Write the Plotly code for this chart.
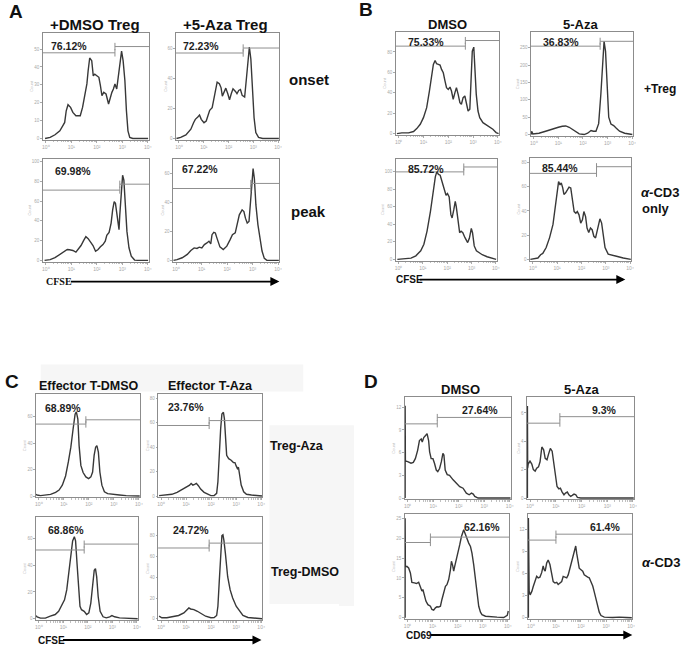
import math
import plotly.graph_objects as go

# ---------------- DATA: (log10 fluorescence, event count) ----------------
# Panel A  (CFSE, onset / peak)
A_onset_dmso = [(-0.03,0),(0.17,0.6),(0.36,2.1),(0.55,4.3),(0.68,7.5),(0.74,9.0),(0.80,15.5),(0.87,18.9),(0.97,17.4),(1.06,14.6),(1.18,12.7),(1.35,12.7),(1.44,17.4),(1.53,24.9),(1.61,30.5),(1.66,38.0),(1.72,45.0),(1.80,43.5),(1.86,35.0),(1.92,36.0),(1.99,35.0),(2.08,34.2),(2.14,29.5),(2.20,23.9),(2.27,25.8),(2.36,24.9),(2.46,19.3),(2.52,23.0),(2.59,25.8),(2.65,27.7),(2.71,30.5),(2.78,27.7),(2.84,34.2),(2.90,43.5),(2.97,48.8),(3.03,43.5),(3.10,32.3),(3.16,15.5),(3.22,4.3),(3.29,0.6),(3.41,0),(4.01,0)]
A_onset_aza = [(-0.1,0),(0.07,0.7),(0.28,2.4),(0.48,6.2),(0.59,10.5),(0.66,12.7),(0.76,14.3),(0.83,15.6),(0.90,12.7),(1.01,10.5),(1.10,11.6),(1.17,16.0),(1.24,18.7),(1.34,20.4),(1.42,27.0),(1.49,34.7),(1.54,37.4),(1.63,36.3),(1.70,33.6),(1.75,28.1),(1.82,30.8),(1.89,33.4),(1.97,29.7),(2.04,25.7),(2.11,29.7),(2.18,33.0),(2.28,31.2),(2.34,29.7),(2.41,31.9),(2.48,32.5),(2.55,28.6),(2.65,27.5),(2.72,39.6),(2.79,52.7),(2.84,60.7),(2.90,52.7),(2.97,33.0),(3.03,13.8),(3.10,4.0),(3.21,0.7),(3.38,0),(4.03,0)]
A_peak_dmso = [(-0.05,0),(0.17,0.7),(0.36,2.7),(0.55,6.0),(0.74,9.3),(0.84,11.0),(0.93,10.7),(1.06,10.0),(1.18,8.3),(1.27,11.0),(1.38,15.0),(1.48,20.0),(1.57,24.0),(1.66,22.0),(1.76,18.3),(1.85,15.0),(1.95,9.3),(2.04,10.7),(2.14,13.7),(2.24,16.0),(2.33,19.3),(2.39,25.3),(2.48,28.3),(2.56,37.7),(2.62,51.0),(2.68,59.3),(2.73,57.7),(2.78,46.0),(2.83,34.3),(2.87,31.0),(2.90,46.0),(2.96,69.3),(3.01,86.0),(3.06,81.0),(3.11,59.3),(3.18,29.3),(3.26,12.7),(3.35,4.3),(3.48,0.3),(3.61,0),(4.01,0)]
A_peak_aza = [(-0.1,0),(0.04,0.5),(0.24,1.8),(0.44,4.1),(0.58,6.8),(0.71,8.6),(0.82,8.2),(0.91,9.1),(1.01,8.6),(1.11,10.9),(1.21,12.0),(1.29,13.2),(1.36,11.4),(1.41,17.7),(1.48,19.3),(1.54,18.9),(1.61,15.0),(1.72,9.3),(1.85,7.5),(1.99,9.8),(2.12,14.3),(2.21,17.7),(2.32,18.9),(2.40,25.7),(2.48,31.4),(2.59,34.8),(2.66,33.6),(2.72,29.1),(2.79,25.7),(2.86,26.8),(2.91,38.2),(2.97,54.1),(3.02,63.2),(3.07,56.4),(3.13,38.2),(3.21,24.5),(3.29,15.5),(3.37,6.4),(3.46,1.4),(3.56,0),(4.03,0)]

# Panel B  (CFSE, +Treg / anti-CD3 only)
B_treg_dmso = [(-0.07,0),(0.13,0.7),(0.40,0.7),(0.60,2.0),(0.73,4.9),(0.87,9.1),(1.00,15.6),(1.13,25.4),(1.24,41.7),(1.33,58.0),(1.40,67.8),(1.47,71.7),(1.53,68.4),(1.60,67.8),(1.67,67.1),(1.73,62.9),(1.80,59.6),(1.87,51.5),(1.93,44.9),(2.00,43.3),(2.07,45.6),(2.13,41.7),(2.20,33.6),(2.27,40.1),(2.33,45.0),(2.40,38.4),(2.47,30.3),(2.53,28.7),(2.60,35.2),(2.67,36.8),(2.73,28.7),(2.80,22.1),(2.87,23.8),(2.92,51.5),(2.97,80.8),(3.03,84.7),(3.08,61.2),(3.13,38.4),(3.20,22.1),(3.27,15.6),(3.40,10.7),(3.60,7.5),(3.80,4.2),(3.93,1.0),(4.03,0)]
B_treg_aza = [(-0.1,0),(-0.09,9.5),(-0.04,1.9),(0.21,3.8),(0.48,9.5),(0.75,16.2),(1.00,21.0),(1.16,23.9),(1.30,24.8),(1.44,21.0),(1.64,11.5),(1.85,1.9),(2.05,0),(2.19,3.8),(2.33,11.5),(2.42,9.5),(2.53,9.5),(2.64,31.5),(2.73,117),(2.81,232),(2.86,269),(2.92,240),(2.99,134),(3.05,50),(3.14,30.5),(3.25,25.8),(3.36,18.1),(3.49,9.5),(3.70,3.8),(3.90,1.9),(4.01,0)]
B_cd3_dmso = [(-0.05,0),(0.24,0.4),(0.51,1.5),(0.71,4.1),(0.91,9.8),(1.04,17.3),(1.17,32.3),(1.31,54.9),(1.41,77.4),(1.51,94.4),(1.57,100),(1.64,97.0),(1.71,96.2),(1.77,90.2),(1.84,84.6),(1.91,77.1),(1.95,73.3),(2.01,75.2),(2.08,71.4),(2.15,51.1),(2.20,47.4),(2.27,56.8),(2.33,66.2),(2.37,60.5),(2.44,43.6),(2.51,30.5),(2.57,32.3),(2.64,30.5),(2.73,24.8),(2.84,19.2),(2.91,24.1),(2.99,35.3),(3.04,30.5),(3.11,15.4),(3.20,9.8),(3.31,7.5),(3.44,5.3),(3.64,3.0),(3.84,1.5),(4.01,0)]
B_cd3_aza = [(-0.1,0),(0.07,0.3),(0.21,1.1),(0.32,3.8),(0.41,4.9),(0.55,9.8),(0.69,18.0),(0.83,28.9),(0.92,42.5),(1.01,60.2),(1.06,64.3),(1.12,61.6),(1.17,63.2),(1.23,59.1),(1.28,53.7),(1.35,55.0),(1.42,56.9),(1.49,59.7),(1.56,59.1),(1.63,49.6),(1.70,39.5),(1.77,38.1),(1.83,39.5),(1.90,36.8),(1.97,30.0),(2.04,32.7),(2.10,39.5),(2.17,35.4),(2.23,25.9),(2.30,22.3),(2.37,25.9),(2.44,24.5),(2.51,19.1),(2.58,17.7),(2.66,24.5),(2.76,33.5),(2.83,30.0),(2.90,18.0),(2.97,9.8),(3.10,4.4),(3.31,3.0),(3.52,2.2),(3.72,1.1),(3.93,0),(4.03,0)]

# Panel C  (CFSE, effector x Treg)
C_aza_effdmso = [(-0.11,1.2),(-0.07,0.8),(0.07,0.3),(0.27,0.8),(0.47,1.2),(0.67,2.8),(0.81,4.5),(0.94,8.2),(1.07,15.2),(1.18,25.8),(1.28,37.0),(1.37,50.8),(1.45,62.0),(1.50,63.8),(1.56,58.2),(1.61,38.2),(1.68,23.2),(1.77,17.8),(1.88,14.5),(1.99,13.2),(2.08,14.5),(2.15,18.2),(2.21,30.8),(2.27,37.0),(2.32,38.2),(2.38,33.2),(2.44,18.2),(2.52,8.2),(2.62,3.2),(2.75,1.8),(2.95,1.2),(3.22,0.8),(3.49,0.3),(3.76,0.3),(4.03,0)]
C_aza_effaza = [(-0.08,0.3),(0.16,0.8),(0.43,1.4),(0.64,3.0),(0.84,5.4),(1.04,7.3),(1.14,8.9),(1.20,10.3),(1.27,8.9),(1.34,9.5),(1.41,10.3),(1.49,8.4),(1.58,5.7),(1.72,3.0),(1.85,1.4),(1.99,0.3),(2.12,0.3),(2.22,2.2),(2.27,11.6),(2.32,33.2),(2.38,54.9),(2.43,67.0),(2.49,68.4),(2.53,63.0),(2.57,49.5),(2.62,33.2),(2.70,30.5),(2.80,29.2),(2.89,27.3),(2.95,27.3),(3.00,24.6),(3.05,22.4),(3.09,23.5),(3.14,16.8),(3.20,8.9),(3.30,3.5),(3.41,1.4),(3.61,0.8),(3.81,0.3),(4.03,0)]
C_dmso_effdmso = [(-0.11,2.4),(-0.07,1.5),(0.07,0.5),(0.27,0.5),(0.47,2.0),(0.67,3.2),(0.81,5.6),(0.94,10.5),(1.05,14.1),(1.14,21.5),(1.23,33.7),(1.32,48.3),(1.38,58.0),(1.45,61.0),(1.50,58.0),(1.56,41.0),(1.61,26.3),(1.68,9.3),(1.74,6.8),(1.85,5.6),(1.95,3.2),(2.04,4.4),(2.12,11.7),(2.19,26.3),(2.26,36.1),(2.31,37.3),(2.36,31.2),(2.42,16.6),(2.50,5.6),(2.62,1.5),(2.75,0.7),(2.89,1.5),(2.98,2.4),(3.09,1.5),(3.29,0.7),(3.49,0.5),(3.76,0.2),(4.03,0)]
C_dmso_effaza = [(-0.08,2.5),(0.03,1.0),(0.23,1.0),(0.50,1.9),(0.70,3.2),(0.91,5.7),(1.04,8.9),(1.11,10.5),(1.18,9.5),(1.31,8.9),(1.45,7.3),(1.58,5.1),(1.78,2.5),(1.99,1.0),(2.12,1.3),(2.22,3.2),(2.27,12.1),(2.32,34.3),(2.38,62.9),(2.43,80.3),(2.47,81.0),(2.51,75.6),(2.57,62.9),(2.66,40.6),(2.76,27.9),(2.86,20.0),(3.00,12.1),(3.14,7.3),(3.27,3.2),(3.47,1.3),(3.81,0.6),(4.03,0)]

# Panel D  (CD69, unstimulated / anti-CD3)
D_un_dmso = [(-0.1,0),(-0.1,12.2),(-0.09,4.9),(0.0,4.8),(0.13,4.6),(0.22,4.7),(0.30,5.2),(0.39,6.3),(0.46,7.6),(0.53,7.8),(0.57,7.4),(0.63,8.0),(0.70,8.3),(0.76,8.5),(0.82,7.6),(0.86,6.1),(0.92,5.2),(0.99,5.2),(1.05,4.6),(1.12,3.7),(1.18,3.5),(1.25,3.9),(1.32,4.8),(1.38,5.9),(1.42,5.7),(1.47,3.7),(1.55,3.1),(1.64,3.0),(1.78,2.4),(1.91,2.0),(2.04,1.5),(2.17,1.3),(2.30,0.65),(2.41,0.43),(2.50,0.65),(2.57,0.52),(2.63,0.22),(2.76,0),(4.03,0)]
D_un_aza = [(-0.1,0),(-0.1,6.5),(-0.09,2.1),(-0.07,2.4),(0.0,2.6),(0.07,2.4),(0.13,2.0),(0.20,1.9),(0.26,2.1),(0.33,2.2),(0.39,2.56),(0.46,3.6),(0.53,3.4),(0.59,2.8),(0.66,2.7),(0.72,3.1),(0.79,3.5),(0.86,3.3),(0.92,2.4),(0.99,1.6),(1.05,0.81),(1.12,0.65),(1.18,0.70),(1.25,0.42),(1.32,0.23),(1.38,0.35),(1.45,0.42),(1.51,0.23),(1.58,0.12),(1.64,0.19),(1.71,0.28),(1.78,0.23),(1.84,0.05),(1.97,0),(4.03,0)]
D_cd3_dmso = [(-0.1,0),(-0.1,25.0),(-0.09,12.75),(-0.03,12.9),(0.04,12.5),(0.11,11.25),(0.17,8.9),(0.27,8.75),(0.35,8.6),(0.44,8.9),(0.51,7.5),(0.57,6.7),(0.61,7.1),(0.67,5.4),(0.73,4.2),(0.81,3.3),(0.91,2.9),(0.97,2.1),(1.04,1.9),(1.11,2.5),(1.17,2.75),(1.24,2.7),(1.31,2.9),(1.37,4.6),(1.44,6.7),(1.51,7.9),(1.57,8.3),(1.64,9.6),(1.71,12.1),(1.75,14.2),(1.80,13.1),(1.84,11.7),(1.88,12.9),(1.95,14.6),(2.01,16.25),(2.08,18.3),(2.15,20.4),(2.20,21.4),(2.24,22.1),(2.28,21.4),(2.32,20.6),(2.37,19.6),(2.44,18.75),(2.51,17.9),(2.57,16.25),(2.64,13.3),(2.71,9.2),(2.77,5.8),(2.84,2.9),(2.91,1.4),(2.97,0.8),(3.11,0.4),(3.31,0.25),(3.57,0.17),(3.84,0.08),(3.98,0.6),(4.02,1.7)]
D_cd3_aza = [(-0.1,0),(-0.1,13.5),(-0.09,4.3),(-0.07,3.6),(-0.03,3.1),(0.04,3.6),(0.09,4.2),(0.17,5.2),(0.23,5.6),(0.29,5.4),(0.36,5.5),(0.43,6.1),(0.49,7.0),(0.53,6.5),(0.57,6.3),(0.63,7.4),(0.69,7.8),(0.76,7.2),(0.83,5.8),(0.89,4.9),(0.96,4.7),(1.03,4.8),(1.09,4.5),(1.16,4.7),(1.23,4.9),(1.29,5.6),(1.36,5.5),(1.43,5.4),(1.49,5.8),(1.56,6.7),(1.63,7.6),(1.69,8.3),(1.75,9.4),(1.79,9.7),(1.83,8.7),(1.88,7.6),(1.93,6.7),(2.00,6.5),(2.07,6.3),(2.13,5.8),(2.20,5.6),(2.27,5.5),(2.33,5.4),(2.40,4.9),(2.47,4.3),(2.53,3.5),(2.60,2.5),(2.67,1.6),(2.73,0.76),(2.80,0.31),(2.93,0.09),(3.27,0.04),(3.53,0.09),(3.80,0.04),(4.03,0)]

# gate labels / gate boundaries (log10) / gate bracket levels (count)
A_pct = ["76.12%", "72.23%", "69.98%", "67.22%"]
B_pct = ["75.33%", "36.83%", "85.72%", "85.44%"]
C_pct = ["68.89%", "23.76%", "68.86%", "24.72%"]
D_pct = ["27.64%", "9.3%", "62.16%", "61.4%"]
A_gate = [(2.71, 47.9, 51.4), (2.59, 56.7, 60.0), (2.90, 71, 77), (2.93, 49.5, 53)]
B_gate = [(2.69, 85.7, 91.2), (2.70, 255, 269), (2.68, 100, 105.6), (2.62, 71.1, 76.6)]
C_gate = [(1.88, 54.5, 57.75), (1.92, 57.6, 61.6), (1.85, 51.2, 55.6), (1.92, 68.3, 73.0)]
D_gate = [(1.16, 9.8, 10.65), (1.16, 5.28, 5.74), (0.91, 18.9, 20.25), (1.0, 10.5, 11.3)]

# y-axis tick values and top of each count scale
A_yticks = [[0, 10, 20, 30, 40, 50], [0, 20, 40, 60], [0, 20, 40, 60, 80, 100], [0, 20, 40, 60]]
B_yticks = [[0, 20, 40, 60, 80], [0, 50, 100, 150, 200, 250], [0, 20, 40, 60, 80, 100], [0, 20, 40, 60, 80]]
C_yticks = [[0, 20, 40, 60], [0, 20, 40, 60, 80], [0, 20, 40, 60], [0, 20, 40, 60, 80]]
D_yticks = [[0, 3, 6, 9, 12], [0, 2, 4, 6], [0, 5, 10, 15, 20, 25], [0, 3, 6, 9, 12]]
A_ymax = [59, 70, 102.7, 70]
B_ymax = [99.6, 296, 115, 84]
C_ymax = [77, 83, 75.6, 98]
D_ymax = [13.3, 7.1, 26, 14]

x_ticktext = ["10\u2070", "10\u00b9", "10\u00b2", "10\u00b3", "10\u2074"]

# ---------------- LAYOUT (pixel boxes) ----------------
W, H = 685, 646
def fx(p): return p / W
def fy(p): return 1 - p / H

boxes = [
    (42, 33, 149, 140), (176, 33, 280, 140), (42, 159, 149, 262), (173, 159, 280, 262),
    (397, 32, 501, 135), (533, 32, 636, 136), (397, 159, 499, 261), (532, 158, 634, 261),
    (35, 395, 140, 498), (158, 395, 263, 498), (35, 518, 138, 621), (158, 518, 263, 621),
    (406, 398, 513, 500), (529, 398, 637, 500), (406, 515, 511, 620), (530, 515, 635, 620),
]
curves = [A_onset_dmso, A_onset_aza, A_peak_dmso, A_peak_aza,
          B_treg_dmso, B_treg_aza, B_cd3_dmso, B_cd3_aza,
          C_aza_effdmso, C_aza_effaza, C_dmso_effdmso, C_dmso_effaza,
          D_un_dmso, D_un_aza, D_cd3_dmso, D_cd3_aza]
pcts = A_pct + B_pct + C_pct + D_pct
gates = A_gate + B_gate + C_gate + D_gate
yticks = A_yticks + B_yticks + C_yticks + D_yticks
ymaxs = A_ymax + B_ymax + C_ymax + D_ymax
# label anchors: fraction of box width from left (or right edge for D), fraction of height
pct_pos = [(0.06, 0.88), (0.05, 0.88), (0.1, 0.88), (0.07, 0.9),
           (0.1, 0.9), (0.1, 0.9), (0.1, 0.9), (0.1, 0.9),
           (0.07, 0.87), (0.08, 0.88), (0.1, 0.88), (0.12, 0.88),
           (0.9, 0.88), (0.86, 0.88), (0.93, 0.88), (0.9, 0.88)]

XR = [-0.12, 4.05]
minor = [k + math.log10(m) for k in range(4) for m in range(2, 10)]

fig = go.Figure()
layout = dict(width=W, height=H, margin=dict(l=0, r=0, t=0, b=0),
              paper_bgcolor="white", plot_bgcolor="white", showlegend=False)
shapes = []
annots = []

FONT = "Arial, Liberation Sans, sans-serif"

for i, (box, cv) in enumerate(zip(boxes, curves), start=1):
    l, t, r, b = box
    ymax = ymaxs[i - 1]
    xs = [p[0] for p in cv]
    ys = [p[1] for p in cv]
    fig.add_trace(go.Scatter(x=xs, y=ys, mode="lines", xaxis=f"x{i}", yaxis=f"y{i}",
                             line=dict(color="#383838", width=1.4), hoverinfo="skip"))
    layout[f"xaxis{i}"] = dict(domain=[fx(l), fx(r)], range=XR, anchor=f"y{i}",
                               showgrid=False, zeroline=False, showline=True, mirror=True,
                               linecolor="#8c8c8c", linewidth=1,
                               tickvals=[0, 1, 2, 3, 4], ticktext=x_ticktext,
                               tickfont=dict(size=5, color="#a8a8a8", family=FONT),
                               ticks="outside", ticklen=2, tickcolor="#aaaaaa",
                               minor=dict(tickvals=minor, ticks="outside", ticklen=1.5, tickcolor="#c0c0c0"),
                               fixedrange=True)
    layout[f"yaxis{i}"] = dict(domain=[fy(b), fy(t)], range=[-0.012 * ymax, ymax], anchor=f"x{i}",
                               showgrid=False, zeroline=False, showline=True, mirror=True,
                               linecolor="#8c8c8c", linewidth=1,
                               tickvals=yticks[i - 1],
                               tickfont=dict(size=4.5, color="#a8a8a8", family=FONT),
                               ticks="outside", ticklen=1.5, tickcolor="#aaaaaa",
                               title=dict(text="Count", font=dict(size=4, color="#bdbdbd", family=FONT), standoff=0),
                               fixedrange=True)
    gx, glo, ghi = gates[i - 1]
    tk = 0.035 * ymax
    gl = dict(color="#8f8f8f", width=1)
    xr_, yr_ = f"x{i}", f"y{i}"
    shapes += [
        dict(type="line", xref=xr_, yref=yr_, x0=XR[0], x1=gx, y0=glo, y1=glo, line=gl),
        dict(type="line", xref=xr_, yref=yr_, x0=gx, x1=gx, y0=glo - tk, y1=glo + tk, line=gl),
        dict(type="line", xref=xr_, yref=yr_, x0=gx, x1=XR[1], y0=ghi, y1=ghi, line=gl),
        dict(type="line", xref=xr_, yref=yr_, x0=gx, x1=gx, y0=ghi - tk, y1=ghi + tk, line=gl),
    ]
    px_, py_ = pct_pos[i - 1]
    right = i >= 13
    annots.append(dict(text=f"<b>{pcts[i - 1]}</b>", xref="paper", yref="paper",
                       x=fx(l + px_ * (r - l)), y=fy(b - py_ * (b - t)),
                       xanchor="right" if right else "left", yanchor="middle", showarrow=False,
                       font=dict(size=10.5, color="#1e1e1e", family=FONT)))

# light grey scan artefact blocks
for (x0, y0, x1, y1) in [(40, 365, 304, 392), (270, 426, 340, 605), (340, 426, 355, 607)]:
    shapes.append(dict(type="rect", xref="paper", yref="paper", x0=fx(x0), x1=fx(x1), y0=fy(y1), y1=fy(y0),
                       fillcolor="#f6f6f6", line=dict(width=0), layer="below"))

def txt(s, x, y, size, bold=True, anchor="center", family=FONT):
    annots.append(dict(text=(f"<b>{s}</b>" if bold else s), xref="paper", yref="paper", x=fx(x), y=fy(y),
                       xanchor=anchor, yanchor="middle", showarrow=False,
                       font=dict(size=size, color="#111111", family=family)))

# panel letters
txt("A", 6, 12, 19, anchor="left")
txt("B", 358, 10, 19, anchor="left")
txt("C", 2, 382, 19, anchor="left")
txt("D", 363, 382, 19, anchor="left")
# column headers
txt("+DMSO Treg", 95, 25, 15)
txt("+5-Aza Treg", 226, 25, 15)
txt("DMSO", 449, 25, 13)
txt("5-Aza", 583, 25, 13)
txt("Effector T-DMSO", 89, 387, 12.5)
txt("Effector T-Aza", 211, 387, 12.5)
txt("DMSO", 462, 390, 13)
txt("5-Aza", 584, 390, 13)
# row labels
txt("onset", 288, 80, 15, anchor="left")
txt("peak", 290, 212, 15, anchor="left")
txt("+Treg", 645, 89, 12, anchor="left")
txt("<i>\u03b1</i>-CD3", 642, 193, 13, anchor="left")
txt("only", 643, 209, 13, anchor="left")
txt("Treg-Aza", 269, 447, 12.5, anchor="left")
txt("Treg-DMSO", 270, 573, 12.5, anchor="left")
txt("<i>\u03b1</i>-CD3", 643, 563, 13, anchor="left")
# x-axis labels with arrows
txt("CFSE", 43, 282, 10, anchor="left", family="Times New Roman, Liberation Serif, serif")
txt("CFSE", 395, 280, 10, anchor="left")
txt("CFSE", 35, 641, 10, anchor="left")
txt("CD69", 405, 636, 10, anchor="left")
for (x0, x1, y) in [(70, 280, 282), (421, 628, 280), (62, 262, 641), (432, 635, 636)]:
    annots.append(dict(x=fx(x1), y=fy(y), xref="paper", yref="paper", ax=x0 - x1, ay=0,
                       axref="pixel", ayref="pixel", text="", showarrow=True,
                       arrowhead=2, arrowsize=1, arrowwidth=1.8, arrowcolor="#000000"))

layout["shapes"] = shapes
layout["annotations"] = annots
fig.update_layout(**layout)
fig.write_html("out.html", config={"displayModeBar": False},
               post_script="document.body.style.margin='0px';document.body.style.overflow='hidden';")
